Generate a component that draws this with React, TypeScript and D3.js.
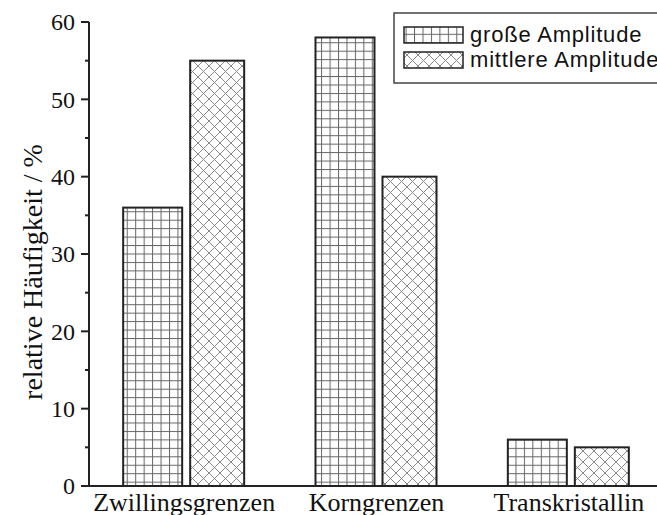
import React from "react";
import * as d3 from "d3";

const categories = ["Zwillingsgrenzen", "Korngrenzen", "Transkristallin"];
const seriesNames = ["große Amplitude", "mittlere Amplitude"];
const grosseAmplitude = [36, 58, 6];
const mittlereAmplitude = [55, 40, 5];
const yTicks = [0, 10, 20, 30, 40, 50, 60];
const yMinorTicks = [5, 15, 25, 35, 45, 55];

const W = 657;
const H = 515;

export default function App() {
  const x = d3.scaleBand<string>().domain(categories).range([88, 665]);
  const y = d3.scaleLinear().domain([0, 60]).range([486, 22]);

  // bar placement inside each category group, relative to the group centre
  const barOffset = d3.scaleOrdinal<string, number>().domain(seriesNames).range([-61, 6]);
  const barWidth = d3.scaleOrdinal<string, number>().domain(seriesNames).range([59, 54]);
  const fills = d3
    .scaleOrdinal<string, string>()
    .domain(seriesNames)
    .range(["url(#gridPat)", "url(#crossPat)"]);

  const values = [grosseAmplitude, mittlereAmplitude];
  const serif = "'Liberation Serif', 'Times New Roman', serif";
  const sans = "'Liberation Sans', Arial, sans-serif";
  const ink = "#222";

  return (
    <svg
      width={W}
      height={H}
      style={{ position: "absolute", left: 0, top: 0, background: "#fff" }}
    >
      <defs>
        <pattern id="gridPat" patternUnits="userSpaceOnUse" width={8.45} height={8.45} x={0} y={0}>
          <rect width={8.45} height={8.45} fill="#fff" />
          <line x1={0.5} y1={0} x2={0.5} y2={8.45} stroke="#666" strokeWidth={1} />
          <line x1={0} y1={0.5} x2={8.45} y2={0.5} stroke="#666" strokeWidth={1} />
        </pattern>
        <pattern id="crossPat" patternUnits="userSpaceOnUse" width={11} height={11}>
          <rect width={11} height={11} fill="#fff" />
          <path d="M0,0 L11,11 M11,0 L0,11" stroke="#888" strokeWidth={1} />
        </pattern>
      </defs>

      {/* bars */}
      {seriesNames.map((s, si) =>
        categories.map((c, ci) => {
          const cx = (x(c) ?? 0) + x.bandwidth() / 2;
          const v = values[si][ci];
          return (
            <rect
              key={s + c}
              x={cx + barOffset(s)}
              y={y(v)}
              width={barWidth(s)}
              height={y(0) - y(v)}
              fill={fills(s)}
              stroke={ink}
              strokeWidth={2}
            />
          );
        })
      )}

      {/* y axis */}
      <line x1={89} y1={y(60)} x2={89} y2={y(0)} stroke={ink} strokeWidth={2} />
      {yTicks.map((t) => (
        <g key={t}>
          <line x1={81} x2={89} y1={y(t)} y2={y(t)} stroke={ink} strokeWidth={2} />
          <text
            x={75}
            y={y(t)}
            dy="0.35em"
            textAnchor="end"
            fontFamily={serif}
            fontSize={24}
            fill="#111"
          >
            {t}
          </text>
        </g>
      ))}
      {yMinorTicks.map((t) => (
        <line key={t} x1={85} x2={89} y1={y(t)} y2={y(t)} stroke={ink} strokeWidth={2} />
      ))}

      {/* x axis */}
      <line x1={88} y1={y(0)} x2={W} y2={y(0)} stroke={ink} strokeWidth={2} />
      {categories.map((c) => (
        <text
          key={c}
          x={(x(c) ?? 0) + x.bandwidth() / 2}
          y={511}
          textAnchor="middle"
          fontFamily={serif}
          fontSize={26}
          fill="#111"
        >
          {c}
        </text>
      ))}

      {/* y axis title */}
      <text
        transform={`translate(42, 272) rotate(-90)`}
        textAnchor="middle"
        fontFamily={serif}
        fontSize={28}
        fill="#111"
      >
        relative Häufigkeit / %
      </text>

      {/* legend */}
      <rect x={394} y={13} width={280} height={70} fill="#fff" stroke="#444" strokeWidth={1.5} />
      {seriesNames.map((s, i) => (
        <g key={s}>
          <rect
            x={404}
            y={27 + i * 25}
            width={59}
            height={16}
            fill={fills(s)}
            stroke={ink}
            strokeWidth={1.5}
          />
          <text
            x={470}
            y={42 + i * 25}
            fontFamily={sans}
            fontSize={22}
            letterSpacing={0.8}
            fill="#111"
          >
            {s}
          </text>
        </g>
      ))}
    </svg>
  );
}
